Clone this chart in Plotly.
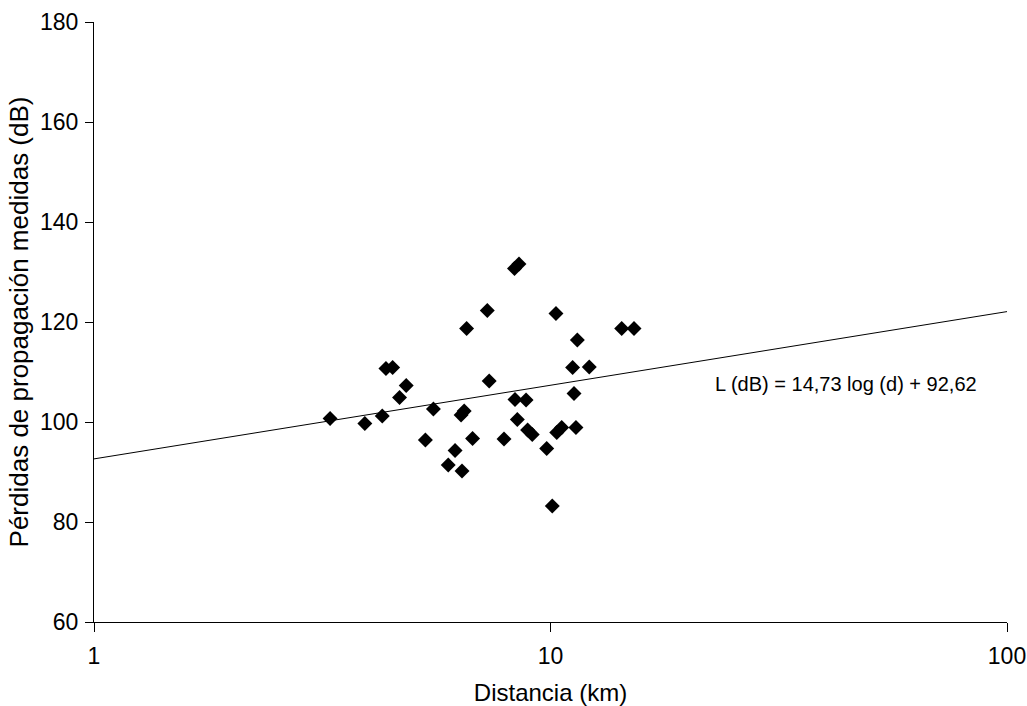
import numpy as np
import plotly.graph_objects as go

# Measured data: distance (km) and measured propagation loss (dB)
distancia_km = [3.29, 3.92, 4.28, 4.36, 4.51, 4.67, 4.83, 5.32, 5.54, 5.97,
                6.18, 6.37, 6.40, 6.47, 6.55, 6.75, 7.27, 7.34, 7.91, 8.34,
                8.36, 8.46, 8.53, 8.84, 8.91, 9.12, 9.81, 10.09, 10.28, 10.32,
                10.58, 11.18, 11.26, 11.37, 11.45, 12.16, 14.32, 15.24]
perdidas_db = [100.7, 99.7, 101.2, 110.7, 110.9, 104.9, 107.3, 96.4, 102.6, 91.4,
               94.3, 101.4, 90.2, 102.2, 118.7, 96.7, 122.3, 108.2, 96.6, 130.7,
               104.5, 100.5, 131.6, 104.4, 98.4, 97.5, 94.7, 83.2, 121.7, 97.9,
               98.9, 110.9, 105.7, 98.9, 116.4, 111.0, 118.7, 118.7]

# Regression: L(dB) = a*log(d) + b
coef_a = 14.73
coef_b = 92.62
recta_d = [1, 100]

x_ticks = [1, 10, 100]
x_ticktext = ["1", "10", "100"]
y_ticks = [60, 80, 100, 120, 140, 160, 180]

recta_L = [coef_a * np.log10(d) + coef_b for d in recta_d]

fig = go.Figure()
fig.add_trace(go.Scatter(
    x=recta_d, y=recta_L, mode="lines",
    line=dict(color="black", width=1), showlegend=False, hoverinfo="skip"))
fig.add_trace(go.Scatter(
    x=distancia_km, y=perdidas_db, mode="markers",
    marker=dict(symbol="diamond", size=11.5, color="black", line=dict(width=0)),
    showlegend=False))

font_family = "Liberation Sans, Arial, sans-serif"

fig.add_annotation(
    x=np.log10(44.4), y=107.6, xref="x", yref="y",
    text="L (dB) = 14,73 log (d) + 92,62", showarrow=False,
    font=dict(family=font_family, size=20, color="black"))

fig.update_layout(
    width=1027, height=706,
    margin=dict(l=94, r=20, t=22, b=84, autoexpand=False),
    paper_bgcolor="white", plot_bgcolor="white",
    font=dict(family=font_family, color="black"),
    xaxis=dict(
        type="log", range=[0, 2],
        tickvals=x_ticks, ticktext=x_ticktext,
        showgrid=False, zeroline=False,
        showline=True, linecolor="black", linewidth=1,
        ticks="outside", ticklen=9, tickcolor="black", tickwidth=1,
        ticklabelstandoff=4,
        tickfont=dict(size=23, family=font_family, color="black"),
        title=dict(text="Distancia (km)", standoff=16,
                   font=dict(size=24, family=font_family, color="black")),
        automargin=False,
    ),
    yaxis=dict(
        range=[60, 180], tickvals=y_ticks,
        showgrid=False, zeroline=False,
        showline=True, linecolor="black", linewidth=1,
        ticks="outside", ticklen=8, tickcolor="black", tickwidth=1,
        ticklabelstandoff=2,
        tickfont=dict(size=23, family=font_family, color="black"),
        title=dict(text="Pérdidas de propagación medidas (dB)", standoff=3,
                   font=dict(size=26, family=font_family, color="black")),
        automargin=False,
    ),
)

fig.write_html("out.html", config={"displayModeBar": False},
               post_script="document.body.style.margin='0px';")
